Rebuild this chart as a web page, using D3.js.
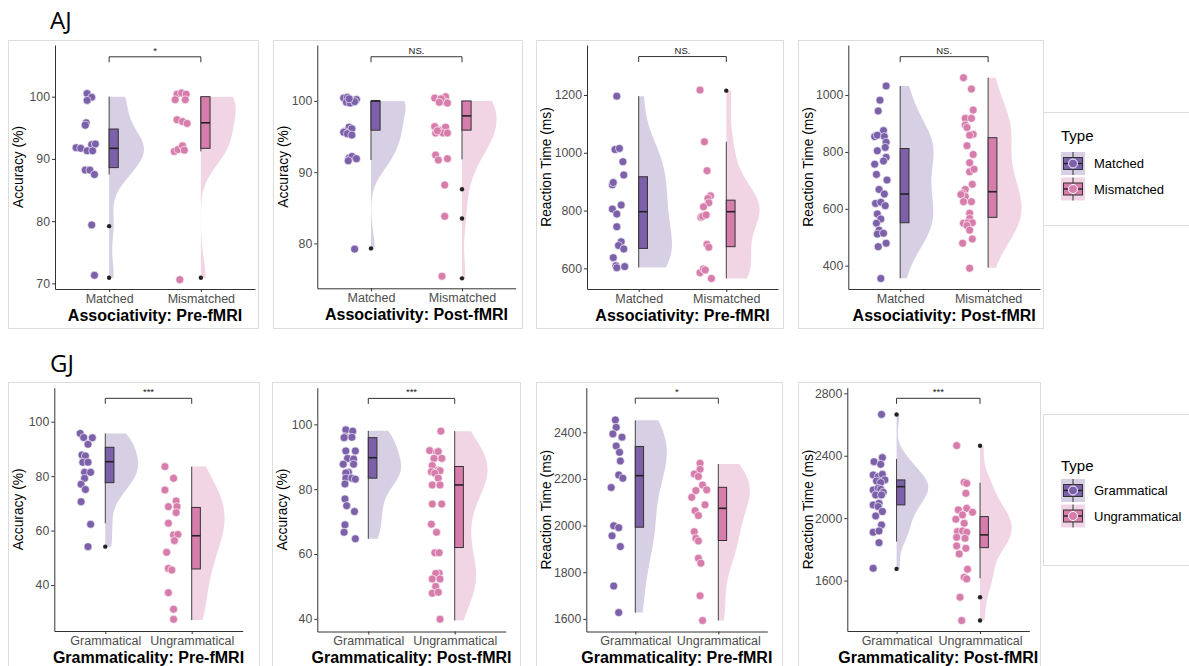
<!DOCTYPE html>
<html>
<head>
<meta charset="utf-8">
<script src="https://cdn.jsdelivr.net/npm/d3@7"></script>
<style>
  body { margin: 0; background: #fff; }
  text { font-family: "Liberation Sans", Arial, sans-serif; }
</style>
</head>
<body>
<svg id="chart" width="1189" height="666"></svg>
<script>
// ---- data ----
var ajGroups = ["Matched", "Mismatched"];
var gjGroups = ["Grammatical", "Ungrammatical"];
var xTitles = ["Associativity: Pre-fMRI", "Associativity: Post-fMRI", "Associativity: Pre-fMRI", "Associativity: Post-fMRI",
               "Grammaticality: Pre-fMRI", "Grammaticality: Post-fMRI", "Grammaticality: Pre-fMRI", "Grammaticality: Post-fMRI"];
var yTitles = ["Accuracy (%)", "Accuracy (%)", "Reaction Time (ms)", "Reaction Time (ms)",
               "Accuracy (%)", "Accuracy (%)", "Reaction Time (ms)", "Reaction Time (ms)"];
var yTicks = [[70, 80, 90, 100], [80, 90, 100], [600, 800, 1000, 1200], [400, 600, 800, 1000],
              [40, 60, 80, 100], [40, 60, 80, 100], [1600, 1800, 2000, 2200, 2400], [1600, 2000, 2400, 2800]];
var yDomains = [[69.1, 108.3], [73.7, 107.85], [528.5, 1373], [318, 1176],
                [23.1, 112.5], [36.1, 111.3], [1546, 2591], [1277, 2836]];
var sigY = [106.4, 106.2, 1333, 1135, 108.6, 108.0, 2546, 2768];
var sigLabels = ["*", "NS.", "NS.", "NS.", "***", "***", "*", "***"];

// points: [horizontal jitter, value]
var p1MatchedPts = [[-0.24,100.5],[-0.19,99.9],[-0.24,99.4],[-0.25,95.8],[-0.26,95.4],[-0.19,92.3],[-0.15,92.4],[-0.36,91.8],[-0.31,91.7],[-0.24,91.3],[-0.18,91.3],[-0.26,88.2],[-0.21,88.2],[-0.16,87.5],[-0.19,79.4],[-0.16,71.3]];
var p1MismatchedPts = [[-0.26,100.4],[-0.21,100.6],[-0.16,100.4],[-0.28,99.5],[-0.17,99.5],[-0.26,96.3],[-0.2,96.0],[-0.15,95.7],[-0.29,91.2],[-0.25,91.5],[-0.2,92.1],[-0.18,91.4],[-0.23,70.6]];
var p2MatchedPts = [[-0.30,100.4],[-0.26,100.5],[-0.21,100.1],[-0.16,100.2],[-0.27,99.8],[-0.23,99.7],[-0.18,99.9],[-0.24,100.3],[-0.24,96.3],[-0.21,96.1],[-0.29,95.7],[-0.30,95.6],[-0.26,95.4],[-0.21,95.2],[-0.24,92.0],[-0.21,92.2],[-0.16,91.9],[-0.25,91.6],[-0.18,79.2]];
var p2MismatchedPts = [[-0.30,100.4],[-0.24,100.1],[-0.18,100.6],[-0.19,99.9],[-0.16,99.7],[-0.23,100.3],[-0.25,99.8],[-0.30,96.4],[-0.25,95.9],[-0.18,96.3],[-0.29,95.5],[-0.21,95.5],[-0.16,95.5],[-0.27,95.8],[-0.29,92.4],[-0.26,91.7],[-0.16,91.9],[-0.19,88.2],[-0.19,83.8],[-0.22,75.4]];
var p3MatchedPts = [[-0.25,1196],[-0.27,1011],[-0.22,1015],[-0.18,969],[-0.17,923],[-0.30,889],[-0.29,897],[-0.30,805],[-0.20,819],[-0.25,788],[-0.25,744],[-0.20,692],[-0.23,679],[-0.17,667],[-0.29,637],[-0.26,609],[-0.25,602],[-0.16,606]];
var p3MismatchedPts = [[-0.30,1217],[-0.25,1038],[-0.22,938],[-0.18,851],[-0.21,842],[-0.20,827],[-0.26,813],[-0.29,777],[-0.27,780],[-0.23,785],[-0.22,683],[-0.20,673],[-0.30,585],[-0.26,598],[-0.24,594],[-0.17,565]];
var p4MatchedPts = [[-0.16,1032],[-0.23,982],[-0.25,944],[-0.19,875],[-0.29,854],[-0.26,859],[-0.18,854],[-0.16,834],[-0.17,816],[-0.26,804],[-0.16,781],[-0.19,768],[-0.29,757],[-0.27,721],[-0.15,701],[-0.24,668],[-0.18,652],[-0.28,619],[-0.22,623],[-0.17,611],[-0.26,582],[-0.22,564],[-0.27,549],[-0.24,525],[-0.26,511],[-0.19,514],[-0.16,479],[-0.25,467],[-0.22,355]];
var p4MismatchedPts = [[-0.28,1061],[-0.19,1021],[-0.17,947],[-0.26,918],[-0.19,918],[-0.26,895],[-0.24,886],[-0.17,862],[-0.21,859],[-0.24,822],[-0.17,791],[-0.21,762],[-0.21,730],[-0.16,739],[-0.18,686],[-0.26,668],[-0.29,654],[-0.26,643],[-0.31,650],[-0.19,625],[-0.28,625],[-0.21,584],[-0.21,566],[-0.28,549],[-0.23,551],[-0.18,551],[-0.24,541],[-0.21,525],[-0.18,494],[-0.29,479],[-0.21,391]];
var p5GramPts = [[-0.29,95.7],[-0.25,94.2],[-0.15,94.1],[-0.20,91.7],[-0.27,87.8],[-0.23,87.4],[-0.26,85.1],[-0.20,85.1],[-0.24,81.4],[-0.17,81.4],[-0.24,79.2],[-0.28,77.0],[-0.23,75.1],[-0.28,70.6],[-0.17,62.3],[-0.20,54.1]];
var p5UngramPts = [[-0.31,83.5],[-0.21,79.2],[-0.31,74.9],[-0.18,70.9],[-0.17,68.8],[-0.27,68.8],[-0.18,66.6],[-0.27,62.7],[-0.21,58.4],[-0.16,58.6],[-0.20,56.3],[-0.29,52.0],[-0.27,46.1],[-0.23,45.5],[-0.27,37.2],[-0.21,31.1],[-0.21,27.4]];
var p6GramPts = [[-0.26,98.3],[-0.18,97.9],[-0.27,96.2],[-0.19,96.0],[-0.28,95.9],[-0.26,91.8],[-0.15,91.8],[-0.24,89.5],[-0.17,89.3],[-0.29,87.7],[-0.17,87.7],[-0.23,85.2],[-0.26,85.0],[-0.26,83.4],[-0.19,83.4],[-0.15,83.1],[-0.27,81.6],[-0.27,77.0],[-0.25,74.9],[-0.16,73.1],[-0.27,69.0],[-0.28,66.7],[-0.15,64.7]];
var p6UngramPts = [[-0.16,97.9],[-0.29,91.9],[-0.21,91.4],[-0.19,91.6],[-0.15,89.5],[-0.24,89.5],[-0.26,87.3],[-0.19,85.9],[-0.17,85.7],[-0.27,85.4],[-0.23,84.9],[-0.19,83.4],[-0.26,81.3],[-0.17,81.3],[-0.26,75.4],[-0.15,75.4],[-0.27,69.2],[-0.21,66.7],[-0.23,60.4],[-0.18,60.4],[-0.18,54.1],[-0.22,54.0],[-0.26,52.3],[-0.17,52.3],[-0.22,50.0],[-0.26,47.9],[-0.19,48.2],[-0.17,39.9]];
var p7GramPts = [[-0.24,2453],[-0.23,2421],[-0.27,2393],[-0.16,2379],[-0.23,2341],[-0.19,2314],[-0.18,2277],[-0.20,2217],[-0.15,2203],[-0.29,2163],[-0.26,1999],[-0.20,1991],[-0.28,1956],[-0.18,1910],[-0.26,1741],[-0.20,1627]];
var p7UngramPts = [[-0.22,2267],[-0.22,2241],[-0.29,2221],[-0.24,2210],[-0.19,2174],[-0.14,2153],[-0.27,2150],[-0.32,2121],[-0.16,2089],[-0.28,2064],[-0.24,2043],[-0.29,1974],[-0.27,1946],[-0.24,1934],[-0.24,1860],[-0.21,1839],[-0.22,1699],[-0.19,1593]];
var p8GramPts = [[-0.18,2665],[-0.27,2362],[-0.17,2388],[-0.19,2345],[-0.28,2277],[-0.22,2266],[-0.17,2281],[-0.24,2238],[-0.14,2245],[-0.19,2228],[-0.28,2181],[-0.22,2191],[-0.19,2185],[-0.16,2166],[-0.25,2149],[-0.18,2149],[-0.28,2085],[-0.21,2095],[-0.22,2074],[-0.17,2042],[-0.25,2014],[-0.18,1957],[-0.28,1910],[-0.21,1918],[-0.21,1843],[-0.28,1679]];
var p8UngramPts = [[-0.28,2465],[-0.19,2230],[-0.16,2223],[-0.17,2159],[-0.26,2053],[-0.16,2063],[-0.21,2021],[-0.09,2038],[-0.29,1993],[-0.19,1967],[-0.27,1914],[-0.21,1918],[-0.16,1910],[-0.28,1877],[-0.18,1871],[-0.28,1822],[-0.17,1807],[-0.25,1771],[-0.15,1673],[-0.19,1621],[-0.16,1611],[-0.24,1493],[-0.22,1344]];

// boxplots: [lower whisker, q1, median, q3, upper whisker]
var boxStats = [
  [[87.5, 88.6, 91.7, 94.8, 100], [91.2, 91.7, 95.8, 100, 100]],
  [[91.7, 95.9, 100, 100, 100], [91.8, 95.9, 97.9, 100, 100]],
  [[603, 669, 796, 917, 1196], [565, 675, 796, 836, 1038]],
  [[356, 551, 652, 812, 1032], [393, 570, 660, 850, 1061]],
  [[62.7, 77.6, 85.3, 90.6, 95.7], [27.1, 45.9, 58.1, 68.5, 83.5]],
  [[64.7, 83.4, 89.7, 95.9, 98.0], [39.5, 62.0, 81.3, 87.0, 97.9]],
  [[1627, 1993, 2214, 2339, 2451], [1593, 1936, 2074, 2164, 2264]],
  [[1850, 2085, 2202, 2245, 2380], [1615, 1811, 1893, 2010, 2227]]
];
var boxOutliers = [
  [[79.2, 70.9], [70.9]],
  [[79.3], [87.6, 83.5, 75.1]],
  [[], [1215]],
  [[], []],
  [[54.1], []],
  [[], []],
  [[], []],
  [[2664, 1675], [2464, 1493, 1344]]
];

var pointSets = [
  [p1MatchedPts, p1MismatchedPts], [p2MatchedPts, p2MismatchedPts],
  [p3MatchedPts, p3MismatchedPts], [p4MatchedPts, p4MismatchedPts],
  [p5GramPts, p5UngramPts], [p6GramPts, p6UngramPts],
  [p7GramPts, p7UngramPts], [p8GramPts, p8UngramPts]
];

// ---- layout ----
var purple = "#7C60A9", pink = "#D77DAB";
var purpleLight = "#D7D0E4", pinkLight = "#F2D5E4";
var colors = [purple, pink], lights = [purpleLight, pinkLight];

// frame: [border x0, y0, x1, y1], plot: [x0, y0, x1, y1]
var frames = [
  { box: [8, 40, 258, 328], plot: [55, 45, 255, 289] },
  { box: [273, 40, 522, 328], plot: [317.3, 45, 515.7, 288.3] },
  { box: [536, 40, 783, 328], plot: [587, 45, 778, 289] },
  { box: [798, 40, 1043, 328], plot: [848.3, 45, 1040, 289] },
  { box: [8, 382, 259, 700], plot: [54.3, 387.7, 242.7, 631] },
  { box: [272, 382, 520, 700], plot: [317.3, 387.7, 505.7, 631.5] },
  { box: [536, 382, 782, 700], plot: [586.3, 387.7, 767.3, 631.5] },
  { box: [798, 382, 1040, 700], plot: [847.3, 387.7, 1029.3, 631] }
];

var svg = d3.select("#chart");

svg.append("text").attr("x", 50).attr("y", 29).attr("font-size", 24)
  .style("font-family", "'Open Sans', sans-serif").text("AJ");
svg.append("text").attr("x", 50).attr("y", 372).attr("font-size", 24)
  .style("font-family", "'Open Sans', sans-serif").text("GJ");

function kde(values, lo, hi) {
  var sorted = values.slice().sort(d3.ascending);
  var sd = d3.deviation(sorted);
  var iqr = d3.quantile(sorted, 0.75) - d3.quantile(sorted, 0.25);
  var s = iqr > 0 ? Math.min(sd, iqr / 1.34) : sd;
  var bw = 0.9 * s * Math.pow(sorted.length, -0.2);
  return d3.range(0, 121).map(function (i) {
    var y = lo + (hi - lo) * i / 120;
    return [y, d3.mean(sorted, function (v) { return Math.exp(-0.5 * Math.pow((y - v) / bw, 2)); })];
  });
}

frames.forEach(function (f, p) {
  var groups = p < 4 ? ajGroups : gjGroups;
  var xs = d3.scaleLinear().domain([0.41, 2.59]).range([f.plot[0], f.plot[2]]);
  var ys = d3.scaleLinear().domain(yDomains[p]).range([f.plot[3], f.plot[1]]);

  svg.append("rect")
    .attr("x", f.box[0] + 0.5).attr("y", f.box[1] + 0.5)
    .attr("width", f.box[2] - f.box[0]).attr("height", f.box[3] - f.box[1])
    .attr("fill", "none").attr("stroke", "#dcdcdc");

  var g = svg.append("g");

  groups.forEach(function (name, k) {
    var c = k + 1;
    var st = boxStats[p][k];
    var outs = boxOutliers[p][k];
    var vals = pointSets[p][k].map(function (d) { return d[1]; });
    var lo = d3.min([st[0]].concat(outs));
    var hi = d3.max([st[4]].concat(outs));
    var dens = kde(vals, lo, hi);
    var dmax = d3.max(dens, function (d) { return d[1]; });

    var area = d3.area()
      .x0(function () { return xs(c); })
      .x1(function (d) { return xs(c + 0.38 * d[1] / dmax); })
      .y(function (d) { return ys(d[0]); })
      .curve(d3.curveBasis);

    g.append("path").datum(dens).attr("d", area).attr("fill", lights[k]);

    // whiskers
    g.append("line").attr("x1", xs(c)).attr("x2", xs(c))
      .attr("y1", ys(st[0])).attr("y2", ys(st[4]))
      .attr("stroke", "#444").attr("stroke-width", 1);
    // box
    g.append("rect").attr("x", xs(c)).attr("y", ys(st[3]))
      .attr("width", xs(c + 0.1) - xs(c)).attr("height", ys(st[1]) - ys(st[3]))
      .attr("fill", colors[k]).attr("stroke", "#333").attr("stroke-width", 1);
    g.append("line").attr("x1", xs(c)).attr("x2", xs(c + 0.1))
      .attr("y1", ys(st[2])).attr("y2", ys(st[2]))
      .attr("stroke", "#222").attr("stroke-width", 1.6);

    g.selectAll(".out" + k).data(outs).enter().append("circle")
      .attr("cx", xs(c)).attr("cy", function (d) { return ys(d); })
      .attr("r", 2.2).attr("fill", "#222");

    g.selectAll(".pt" + k).data(pointSets[p][k]).enter().append("circle")
      .attr("cx", function (d) { return xs(c + d[0]); })
      .attr("cy", function (d) { return ys(d[1]); })
      .attr("r", 4).attr("fill", colors[k])
      .attr("stroke", "#fff").attr("stroke-width", 0.6);
  });

  // significance bracket
  var by = ys(sigY[p]);
  g.append("path")
    .attr("d", "M" + xs(1) + "," + (by + 5.5) + "V" + by + "H" + xs(2) + "V" + (by + 5.5))
    .attr("fill", "none").attr("stroke", "#333").attr("stroke-width", 1);
  g.append("text").attr("x", (xs(1) + xs(2)) / 2).attr("y", by - 3)
    .attr("text-anchor", "middle").attr("font-size", 9.5).attr("fill", "#222")
    .text(sigLabels[p]);

  // axes
  var yAxis = d3.axisLeft(ys).tickValues(yTicks[p]).tickSize(3).tickSizeOuter(0).tickPadding(2)
    .tickFormat(d3.format("d"));
  var ya = svg.append("g").attr("transform", "translate(" + f.plot[0] + ",0)").call(yAxis);
  ya.select(".domain").attr("stroke", "#333");
  ya.selectAll(".tick line").attr("stroke", "#333");
  ya.selectAll(".tick text").attr("fill", "#4d4d4d").attr("font-size", 12.3)
    .style("font-family", "'Liberation Sans', Arial, sans-serif");

  var xAxis = d3.axisBottom(xs).tickValues([1, 2]).tickSize(3).tickSizeOuter(0).tickPadding(2)
    .tickFormat(function (d) { return groups[d - 1]; });
  var xa = svg.append("g").attr("transform", "translate(0," + f.plot[3] + ")").call(xAxis);
  xa.select(".domain").attr("stroke", "#333");
  xa.selectAll(".tick line").attr("stroke", "#333");
  xa.selectAll(".tick text").attr("fill", "#4d4d4d").attr("font-size", 12.5)
    .style("font-family", "'Liberation Sans', Arial, sans-serif");

  svg.append("text")
    .attr("x", (f.plot[0] + f.plot[2]) / 2).attr("y", f.plot[3] + 31.5)
    .attr("text-anchor", "middle").attr("font-size", 16).attr("font-weight", "bold")
    .text(xTitles[p]);

  svg.append("text")
    .attr("transform", "translate(" + (f.box[0] + 10.5) + "," + ((f.plot[1] + f.plot[3]) / 2) + ") rotate(-90)")
    .attr("text-anchor", "middle").attr("dy", "0.35em").attr("font-size", 13.8)
    .text(yTitles[p]);
});

// ---- legends ----
function drawLegend(top, bottom, titleY, keyY, labels) {
  svg.append("rect").attr("x", frames[3].box[2] + 0.5).attr("y", top + 0.5)
    .attr("width", 200).attr("height", bottom - top)
    .attr("fill", "#fff").attr("stroke", "#dcdcdc");
  svg.append("text").attr("x", 1061).attr("y", titleY).attr("font-size", 15).text("Type");
  labels.forEach(function (lab, k) {
    var y0 = keyY + k * 25.5, x0 = 1061;
    var kg = svg.append("g");
    kg.append("rect").attr("x", x0).attr("y", y0).attr("width", 24).attr("height", 23).attr("fill", lights[k]);
    kg.append("line").attr("x1", x0 + 12).attr("x2", x0 + 12).attr("y1", y0).attr("y2", y0 + 23)
      .attr("stroke", "#333");
    kg.append("rect").attr("x", x0 + 2.5).attr("y", y0 + 5.5).attr("width", 19).attr("height", 12)
      .attr("fill", colors[k]).attr("stroke", "#333");
    kg.append("line").attr("x1", x0 + 2.5).attr("x2", x0 + 21.5).attr("y1", y0 + 11.5).attr("y2", y0 + 11.5)
      .attr("stroke", "#222").attr("stroke-width", 1.4);
    kg.append("circle").attr("cx", x0 + 12).attr("cy", y0 + 11.5).attr("r", 4.5)
      .attr("fill", colors[k]).attr("stroke", "#fff").attr("stroke-width", 1);
    svg.append("text").attr("x", 1094).attr("y", y0 + 11.5).attr("dy", "0.35em")
      .attr("font-size", 13).text(lab);
  });
}
drawLegend(112, 225, 141, 152, ajGroups);
drawLegend(414, 565, 471, 479, gjGroups);
</script>
</body>
</html>
